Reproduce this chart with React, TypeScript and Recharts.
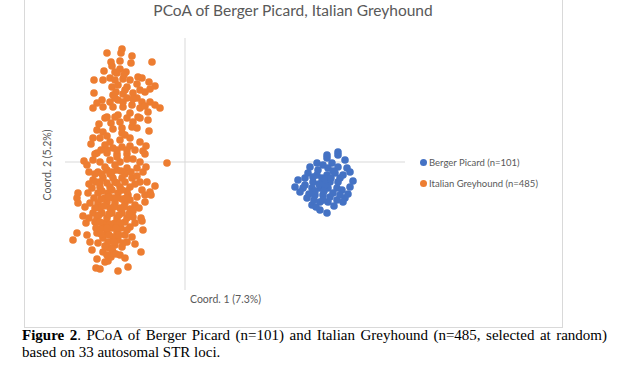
import { ScatterChart, Scatter, XAxis, YAxis, ReferenceLine } from 'recharts'

// PCoA coordinates (arbitrary units)
const bergerPicard: [number, number][] = [
  [14.2, 0.4], [15.3, 0.7], [16.0, 0.2], [14.7, -0.1], [13.2, -0.1], [12.5, -0.5],
  [13.3, -0.8], [14.3, -0.6], [15.3, -0.5], [16.2, -0.6], [12.3, -1.1], [13.2, -1.3],
  [14.2, -1.3], [15.0, -1.1], [15.8, -1.3], [11.3, -1.8], [11.0, -2.5], [12.0, -2.3],
  [12.8, -2.0], [13.7, -2.0], [14.5, -2.0], [15.3, -2.0], [11.8, -2.6], [12.7, -2.6],
  [13.5, -2.6], [14.3, -2.6], [15.2, -2.6], [16.5, -2.5], [15.7, -2.8], [12.2, -3.6],
  [13.0, -3.3], [13.8, -3.3], [14.8, -3.1], [16.0, -3.6], [12.7, -4.3], [13.5, -4.0],
  [14.3, -4.0], [15.2, -3.8], [13.5, -4.8], [14.2, -5.1], [16.3, -3.2], [15.3, 1.0],
  [14.2, 0.7], [13.8, -0.3], [14.8, -0.9], [13.7, -1.6], [12.8, -1.5], [14.0, -2.3],
  [13.0, -2.9], [14.5, -3.5], [15.5, -1.6], [12.0, -1.6], [13.8, -3.8], [15.5, -3.3],
  [16.5, -1.0], [16.8, -1.9], [11.5, -3.0], [12.4, -3.2], [14.9, -4.4], [13.1, -4.5],
  [15.8, -4.0], [14.0, -1.8], [13.4, -2.2], [14.6, -1.6], [13.9, -2.9], [12.9, -3.8],
]

const italianGreyhound: [number, number][] = [
  [-7.8, 10.9], [-6.3, 11.3], [-6.4, 10.9], [-5.3, 10.6], [-6.5, 10.1], [-5.4, 9.9],
  [-3.3, 10.0], [-7.4, 10.0], [-7.3, 9.6], [-8.1, 9.1], [-6.5, 9.3], [-6.8, 8.9],
  [-9.1, 8.2], [-8.2, 8.2], [-7.5, 8.4], [-7.0, 8.2], [-6.2, 8.3], [-5.5, 8.2],
  [-4.7, 8.5], [-4.3, 8.4], [-3.6, 8.0], [-3.0, 7.6], [-7.3, 7.5], [-6.7, 7.7],
  [-5.8, 7.5], [-9.1, 6.9], [-4.5, 7.2], [-5.2, 6.9], [-6.2, 6.8], [-7.2, 6.7],
  [-8.3, 6.2], [-8.8, 5.9], [-7.5, 6.0], [-6.7, 6.2], [-5.8, 6.4], [-4.8, 6.4],
  [-4.3, 6.0], [-3.5, 6.0], [-2.5, 5.4], [-3.0, 5.7], [-9.2, 5.4], [-8.2, 5.5],
  [-7.2, 5.5], [-6.2, 5.5], [-5.3, 5.7], [-4.5, 5.4], [-3.7, 5.0], [-7.8, 4.5],
  [-6.7, 4.7], [-5.5, 4.9], [-4.7, 4.5],
  [-8.0, 4.4], [-7.0, 4.5], [-5.8, 4.4], [-4.5, 4.4], [-3.7, 4.2], [-8.8, 3.2],
  [-8.2, 3.0], [-7.2, 3.3], [-6.3, 3.4], [-6.3, 2.9], [-5.3, 3.5], [-4.8, 3.4],
  [-3.6, 3.1], [-9.2, 2.4], [-8.5, 2.4], [-9.4, 1.8], [-8.0, 1.7], [-7.2, 1.4],
  [-6.3, 1.5], [-5.5, 1.6], [-4.5, 2.0], [-4.2, 1.1], [-5.0, 1.2], [-8.8, 0.9],
  [-7.8, 0.9], [-6.8, 0.8], [-5.8, 0.8], [-10.1, 0.1], [-9.2, 0.2], [-8.5, 0.0],
  [-7.5, 0.2], [-6.5, 0.0], [-5.2, 0.3], [-4.5, 0.0], [-1.8, -0.1], [-9.6, -1.0],
  [-8.7, -1.0], [-7.8, -0.8], [-6.8, -0.8], [-5.8, -0.6], [-4.8, -0.6], [-4.2, -1.0],
  [-9.2, -1.8], [-8.2, -1.6], [-7.2, -1.6], [-6.3, -1.6], [-5.3, -1.6], [-4.5, -2.0],
  [-3.8, -2.0], [-3.0, -2.4], [-9.3, -2.6], [-8.5, -2.5], [-7.5, -2.5], [-6.5, -2.5],
  [-5.5, -2.5], [-4.3, -2.8], [-3.5, -3.0], [-10.7, -3.1],
  [-10.8, -3.6], [-10.7, -4.1], [-9.7, -3.1], [-8.7, -3.1], [-7.7, -3.1], [-6.7, -3.1],
  [-5.7, -3.3], [-4.8, -3.5], [-4.0, -3.3], [-3.4, -3.3], [-4.0, -4.0], [-9.5, -4.1],
  [-8.7, -4.1], [-7.8, -4.0], [-7.0, -4.1], [-6.0, -4.1], [-5.0, -4.3], [-10.2, -5.4],
  [-9.2, -5.1], [-8.3, -5.1], [-7.3, -5.1], [-6.3, -5.1], [-5.2, -5.5], [-4.4, -5.6],
  [-9.9, -6.1], [-9.0, -6.0], [-8.0, -6.1], [-7.0, -6.1], [-6.0, -6.0], [-5.0, -6.1],
  [-4.3, -5.9], [-10.8, -7.1], [-11.2, -7.8], [-9.8, -7.3], [-8.8, -7.1], [-7.8, -7.1],
  [-6.8, -7.0], [-6.0, -7.3], [-5.3, -7.5], [-9.5, -8.0], [-8.7, -8.1], [-7.7, -8.0],
  [-6.7, -7.8], [-9.3, -8.8], [-8.2, -9.0], [-7.2, -9.0], [-6.3, -8.5], [-4.4, -9.0],
  [-8.8, -9.7], [-8.0, -10.0], [-7.7, -9.9], [-8.9, -10.6], [-8.5, -10.7], [-6.7, -10.9],
  [-5.7, -10.5],
  [-8.0, -0.5], [-7.0, -0.3], [-6.0, -1.2], [-7.5, -1.2], [-8.5, -2.0], [-7.0, -2.0],
  [-6.0, -2.0], [-5.0, -2.2], [-8.0, -3.6], [-7.2, -3.6], [-6.3, -3.7], [-5.5, -3.8],
  [-8.5, -4.6], [-7.5, -4.6], [-6.5, -4.6], [-5.5, -4.7], [-8.8, -5.6], [-7.8, -5.6],
  [-6.8, -5.6], [-5.8, -5.6], [-8.3, -6.6], [-7.3, -6.6], [-6.4, -6.6], [-7.2, -7.5],
  [-8.2, -7.6], [-7.0, -8.3], [-7.6, -8.6], [-6.5, -9.3], [-7.4, -9.5], [-6.8, 0.5],
  [-5.8, 0.3], [-7.8, 1.2], [-6.8, 1.2], [-5.8, 1.2], [-8.4, 1.2], [-7.5, 2.0],
  [-6.5, 2.2], [-5.5, 2.4], [-7.8, 2.6], [-6.0, 2.7], [-7.4, 3.9], [-6.5, 4.0],
  [-5.2, 4.0], [-8.6, 3.8], [-6.2, 6.0], [-7.0, 6.4], [-5.2, 6.3], [-6.0, 7.2],
  [-6.9, 7.0], [-7.0, 9.0], [-5.9, 9.0], [-6.1, 8.7], [-4.0, 7.0], [-4.8, 7.8],
  [-3.5, 7.3], [-4.0, 5.6], [-9.0, 0.8], [-9.8, -0.3], [-9.0, -1.2], [-4.8, -1.4],
  [-3.9, -0.5], [-4.0, 0.8], [-3.9, 1.6], [-9.6, -2.2], [-10.0, -4.5], [-9.6, -5.6],
  [-4.6, -4.6], [-4.2, -6.8], [-5.0, -8.2], [-5.8, -8.0], [-6.0, -9.6],
  [-8.3, -1.2], [-7.3, -1.0], [-6.4, -0.9], [-5.4, -1.0], [-8.9, -2.0], [-7.8, -2.1],
  [-6.8, -2.1], [-5.8, -2.9], [-8.3, -2.9], [-7.3, -2.8], [-6.3, -2.8], [-9.1, -3.6],
  [-8.4, -3.7], [-7.6, -3.5], [-6.8, -3.6], [-5.9, -3.6], [-9.0, -4.6], [-8.1, -4.4],
  [-7.1, -4.5], [-6.1, -4.5], [-5.2, -4.9], [-8.6, -5.3], [-7.6, -5.2], [-6.6, -5.3],
  [-5.6, -5.2], [-8.5, -6.0], [-7.5, -6.2], [-6.5, -6.1], [-5.5, -6.5], [-8.9, -6.6],
  [-7.8, -6.6], [-6.9, -6.6], [-5.8, -6.8], [-7.6, -7.3], [-6.6, -7.3], [-8.4, -7.2],
  [-7.1, -8.0], [-6.2, -8.1], [-8.0, -8.4], [-7.3, -8.7], [-6.9, -9.2], [-7.8, -9.3],
]

const xDomain = [-12, 22]
const yDomain = [-12.8, 12.4]

const BLUE = '#4472C4'
const ORANGE = '#ED7D31'
const GREY = '#595959'

const toPoints = (arr: [number, number][]) => arr.map(([x, y]) => ({ x, y }))

const dot = (color: string) => (props: any) =>
  <circle cx={props.cx} cy={props.cy} r={3.8} fill={color} />

export default function App() {
  return (
    <div style={{ position: 'relative', width: 622, height: 365, background: '#fff', fontFamily: 'Lato, sans-serif' }}>
      <style>{'body{margin:0}'}</style>
      <div style={{ position: 'absolute', left: 24, top: -2, width: 537, height: 328, border: '1px solid #d9d9d9' }} />
      <div style={{ position: 'absolute', left: 0, top: 1, width: 586, textAlign: 'center', fontSize: 15.5, color: GREY }}>
        PCoA of Berger Picard, Italian Greyhound
      </div>
      <ScatterChart width={622} height={365} margin={{ top: 38, left: 65, right: 217, bottom: 75 }}
        style={{ position: 'absolute', left: 0, top: 0 }}>
        <XAxis type="number" dataKey="x" domain={xDomain} hide allowDataOverflow />
        <YAxis type="number" dataKey="y" domain={yDomain} hide allowDataOverflow />
        <ReferenceLine x={0} stroke="#d9d9d9" strokeWidth={1} />
        <ReferenceLine y={0} stroke="#d9d9d9" strokeWidth={1} />
        <Scatter name="Berger Picard (n=101)" data={toPoints(bergerPicard)} fill={BLUE}
          shape={dot(BLUE)} isAnimationActive={false} />
        <Scatter name="Italian Greyhound (n=485)" data={toPoints(italianGreyhound)} fill={ORANGE}
          shape={dot(ORANGE)} isAnimationActive={false} />
      </ScatterChart>
      <div style={{ position: 'absolute', left: 47, top: 165, transform: 'translate(-50%, -50%) rotate(-90deg)',
        whiteSpace: 'nowrap', fontSize: 10.5, color: GREY }}>
        Coord. 2 (5.2%)
      </div>
      <div style={{ position: 'absolute', left: 190, top: 293, whiteSpace: 'nowrap', fontSize: 10.5, color: GREY }}>
        Coord. 1 (7.3%)
      </div>
      {[
        { label: 'Berger Picard (n=101)', color: BLUE, top: 162 },
        { label: 'Italian Greyhound (n=485)', color: ORANGE, top: 183 },
      ].map(item => (
        <div key={item.label} style={{ position: 'absolute', left: 420, top: item.top - 7, display: 'flex',
          alignItems: 'center', height: 14, fontSize: 9.5, color: GREY, whiteSpace: 'nowrap' }}>
          <span style={{ width: 7, height: 7, borderRadius: '50%', background: item.color, marginRight: 2 }} />
          {item.label}
        </div>
      ))}
      <div style={{ position: 'absolute', left: 22, top: 327, width: 585, color: '#000',
        fontFamily: '"Liberation Serif", "Times New Roman", serif', fontSize: 15, lineHeight: '17px' }}>
        <div style={{ textAlign: 'justify', textAlignLast: 'justify', whiteSpace: 'nowrap' }}>
          <b>Figure 2</b>. PCoA of Berger Picard (n=101) and Italian Greyhound (n=485, selected at random)
        </div>
        <div style={{ whiteSpace: 'nowrap' }}>based on 33 autosomal STR loci.</div>
      </div>
    </div>
  )
}
